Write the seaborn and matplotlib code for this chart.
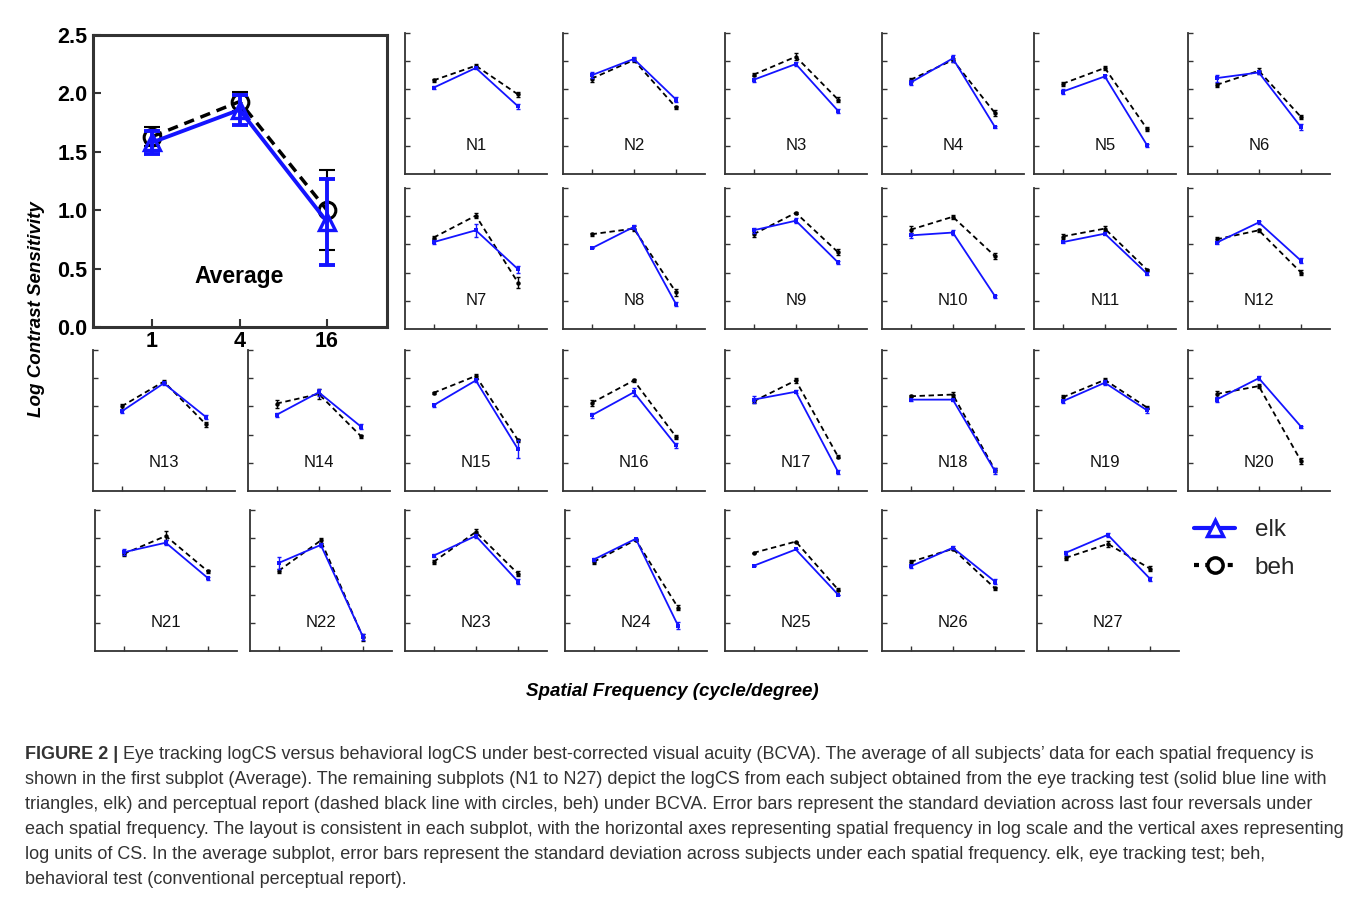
import numpy as np
import pandas as pd
import matplotlib
matplotlib.use("Agg")
import matplotlib.pyplot as plt
from matplotlib.lines import Line2D
from matplotlib.ticker import NullLocator, FixedLocator
import seaborn as sns

sns.set_theme(style="white")
plt.rcParams["font.family"] = ["Liberation Sans", "DejaVu Sans"]

# ---------------- data ----------------
freqs = [1, 4, 16]
freq_labels = ["1", "4", "16"]
subjects = [f"N{i}" for i in range(1, 28)]

# eye tracking (elk) logCS per subject at 1, 4, 16 c/deg
elk_1 = [1.53, 1.75, 1.67, 1.62, 1.46, 1.70, 1.54, 1.43, 1.75, 1.66, 1.54, 1.53, 1.41, 1.35,
         1.52, 1.34, 1.62, 1.62, 1.59, 1.62, 1.75, 1.56, 1.69, 1.62, 1.51, 1.50, 1.74]
elk_4 = [1.88, 2.04, 1.95, 2.05, 1.73, 1.80, 1.75, 1.81, 1.92, 1.71, 1.69, 1.89, 1.91, 1.75,
         1.96, 1.75, 1.76, 1.62, 1.92, 2.00, 1.92, 1.88, 2.04, 1.99, 1.80, 1.83, 2.06]
elk_16 = [1.20, 1.32, 1.12, 0.83, 0.51, 0.83, 1.06, 0.44, 1.18, 0.58, 0.98, 1.21, 1.31, 1.14,
          0.74, 0.81, 0.34, 0.35, 1.43, 1.14, 1.29, 0.25, 1.23, 0.45, 1.00, 1.23, 1.28]
# behavioral (beh) logCS
beh_1 = [1.66, 1.69, 1.76, 1.67, 1.60, 1.58, 1.62, 1.68, 1.68, 1.76, 1.64, 1.59, 1.50, 1.55,
         1.74, 1.56, 1.59, 1.68, 1.66, 1.72, 1.72, 1.42, 1.58, 1.58, 1.74, 1.58, 1.65]
beh_4 = [1.92, 2.02, 2.08, 2.02, 1.88, 1.83, 2.01, 1.78, 2.06, 1.99, 1.78, 1.75, 1.94, 1.72,
         2.04, 1.96, 1.96, 1.71, 1.97, 1.86, 2.04, 1.96, 2.11, 1.97, 1.94, 1.81, 1.90]
beh_16 = [1.41, 1.18, 1.32, 1.08, 0.80, 1.01, 0.82, 0.65, 1.36, 1.29, 1.05, 1.00, 1.18, 0.97,
          0.90, 0.96, 0.61, 0.37, 1.48, 0.53, 1.41, 0.24, 1.37, 0.77, 1.09, 1.11, 1.46]

# standard deviations across last four reversals
elk_sd_1 = [0.03, 0.05, 0.03, 0.05, 0.04, 0.06, 0.03, 0.00, 0.04, 0.04, 0.02, 0.03, 0.02, 0.03,
            0.03, 0.04, 0.06, 0.02, 0.03, 0.04, 0.05, 0.10, 0.03, 0.03, 0.00, 0.03, 0.04]
elk_sd_4 = [0.02, 0.03, 0.03, 0.06, 0.03, 0.03, 0.12, 0.04, 0.04, 0.05, 0.03, 0.03, 0.03, 0.06,
            0.03, 0.07, 0.03, 0.02, 0.04, 0.04, 0.04, 0.03, 0.03, 0.02, 0.00, 0.03, 0.04]
elk_sd_16 = [0.04, 0.05, 0.03, 0.02, 0.03, 0.05, 0.06, 0.03, 0.03, 0.03, 0.03, 0.04, 0.03, 0.04,
             0.16, 0.04, 0.03, 0.05, 0.04, 0.02, 0.03, 0.05, 0.04, 0.06, 0.00, 0.05, 0.04]
beh_sd_1 = [0.03, 0.05, 0.03, 0.03, 0.04, 0.04, 0.03, 0.03, 0.04, 0.06, 0.05, 0.05, 0.05, 0.07,
            0.02, 0.06, 0.03, 0.02, 0.05, 0.05, 0.04, 0.04, 0.03, 0.03, 0.00, 0.03, 0.03]
beh_sd_4 = [0.03, 0.03, 0.06, 0.04, 0.03, 0.05, 0.04, 0.04, 0.02, 0.04, 0.04, 0.03, 0.03, 0.08,
            0.03, 0.02, 0.04, 0.05, 0.03, 0.03, 0.08, 0.05, 0.05, 0.02, 0.00, 0.02, 0.05]
beh_sd_16 = [0.04, 0.03, 0.04, 0.06, 0.04, 0.03, 0.10, 0.06, 0.05, 0.05, 0.02, 0.05, 0.05, 0.03,
             0.03, 0.04, 0.03, 0.04, 0.03, 0.05, 0.03, 0.06, 0.04, 0.04, 0.02, 0.03, 0.04]

# average across subjects
avg_elk = [1.58, 1.86, 0.90]
avg_elk_sd = [0.10, 0.13, 0.37]
avg_beh = [1.63, 1.93, 1.00]
avg_beh_sd = [0.08, 0.08, 0.34]

caption_lead = "FIGURE 2 |"
caption_lines = [
    " Eye tracking logCS versus behavioral logCS under best-corrected visual acuity (BCVA). The average of all subjects\u2019 data for each spatial frequency is",
    "shown in the first subplot (Average). The remaining subplots (N1 to N27) depict the logCS from each subject obtained from the eye tracking test (solid blue line with",
    "triangles, elk) and perceptual report (dashed black line with circles, beh) under BCVA. Error bars represent the standard deviation across last four reversals under",
    "each spatial frequency. The layout is consistent in each subplot, with the horizontal axes representing spatial frequency in log scale and the vertical axes representing",
    "log units of CS. In the average subplot, error bars represent the standard deviation across subjects under each spatial frequency. elk, eye tracking test; beh,",
    "behavioral test (conventional perceptual report).",
]

# ---------------- layout ----------------
W, H = 1357, 897
fig = plt.figure(figsize=(W / 100, H / 100), dpi=100)
fig.patch.set_facecolor("white")

BLUE = "#1414ff"
SPINE = "#333333"
XLIM = (2 ** -1.35, 2 ** 5.37)


def px_axes(x0, y_top, w, h):
    return fig.add_axes([x0 / W, 1 - (y_top + h) / H, w / W, h / H])


def setup_log_x(ax):
    ax.set_xscale("log", base=2)
    ax.set_xlim(*XLIM)
    ax.xaxis.set_major_locator(FixedLocator(freqs))
    ax.xaxis.set_minor_locator(NullLocator())
    ax.set_ylim(0, 2.5)


# ---- Average panel ----
ax = px_axes(93, 35, 294, 292)
setup_log_x(ax)
ax.errorbar(freqs, avg_beh, yerr=avg_beh_sd, fmt="none", ecolor="black",
            elinewidth=1.5, capsize=5.5, capthick=1.5, zorder=2)
sns.lineplot(x=freqs, y=avg_beh, ax=ax, color="black", linestyle=(0, (3, 2)), linewidth=2.5,
             marker="o", markersize=12, markerfacecolor="none", markeredgecolor="black",
             markeredgewidth=2.2, errorbar=None, zorder=3)
ax.errorbar(freqs, avg_elk, yerr=avg_elk_sd, fmt="none", ecolor=BLUE,
            elinewidth=2.8, capsize=6, capthick=2.8, zorder=4)
sns.lineplot(x=freqs, y=avg_elk, ax=ax, color=BLUE, linewidth=2.8,
             marker="^", markersize=12, markerfacecolor="none", markeredgecolor=BLUE,
             markeredgewidth=2.4, errorbar=None, zorder=5)
ax.set_yticks([0.0, 0.5, 1.0, 1.5, 2.0, 2.5])
ax.set_yticklabels(["0.0", "0.5", "1.0", "1.5", "2.0", "2.5"])
ax.set_xticklabels(freq_labels)
for lab in ax.get_xticklabels() + ax.get_yticklabels():
    lab.set_fontweight("bold")
    lab.set_fontsize(15.5)
    lab.set_color("black")
ax.tick_params(axis="both", direction="in", length=6, width=1.5, color=SPINE,
               left=True, bottom=True)
ax.tick_params(axis="x", pad=3)
ax.tick_params(axis="y", pad=4)
for s in ax.spines.values():
    s.set_visible(True)
    s.set_color(SPINE)
    s.set_linewidth(2.2)
ax.set_xlabel("")
ax.set_ylabel("")
ax.text(4, 0.43, "Average", ha="center", va="center", fontsize=16.5, fontweight="bold", color="black")

# ---- per-subject panels ----
row_tops = [33, 188, 350, 510]
cols_r12 = [405, 563, 725, 882, 1034, 1188]
cols_r3 = [93, 248, 405, 563, 725, 882, 1034, 1188]
cols_r4 = [95, 250, 405, 565, 725, 882, 1037]
positions = ([(x, row_tops[0]) for x in cols_r12] + [(x, row_tops[1]) for x in cols_r12]
             + [(x, row_tops[2]) for x in cols_r3] + [(x, row_tops[3]) for x in cols_r4])

for i, name in enumerate(subjects):
    x0, yt = positions[i]
    a = px_axes(x0, yt, 142, 141)
    setup_log_x(a)
    e = [elk_1[i], elk_4[i], elk_16[i]]
    es = [elk_sd_1[i], elk_sd_4[i], elk_sd_16[i]]
    b = [beh_1[i], beh_4[i], beh_16[i]]
    bs = [beh_sd_1[i], beh_sd_4[i], beh_sd_16[i]]
    a.errorbar(freqs, b, yerr=bs, fmt="none", ecolor="black", elinewidth=1.0,
               capsize=1.5, capthick=1.0, zorder=2)
    sns.lineplot(x=freqs, y=b, ax=a, color="black", linestyle=(0, (3, 2)), linewidth=1.3,
                 marker="o", markersize=3.2, markeredgewidth=0, errorbar=None, zorder=3)
    a.errorbar(freqs, e, yerr=es, fmt="none", ecolor=BLUE, elinewidth=1.0,
               capsize=1.5, capthick=1.0, zorder=4)
    sns.lineplot(x=freqs, y=e, ax=a, color=BLUE, linewidth=1.3,
                 marker="s", markersize=2.2, markeredgewidth=0, errorbar=None, zorder=5)
    a.set_yticks([0.5, 1.0, 1.5, 2.0, 2.5])
    a.tick_params(axis="both", direction="in", length=3.5, width=1.0, color=SPINE,
                  left=True, bottom=True, labelbottom=False, labelleft=False)
    sns.despine(ax=a)
    for s in ("left", "bottom"):
        a.spines[s].set_color(SPINE)
        a.spines[s].set_linewidth(1.3)
    a.set_xlabel("")
    a.set_ylabel("")
    a.text(0.5, 0.2, name, transform=a.transAxes, ha="center", va="center",
           fontsize=12, color="#111111")

# ---- legend ----
handles = [
    Line2D([], [], color=BLUE, linewidth=3, marker="^", markersize=12,
           markerfacecolor="white", markeredgecolor=BLUE, markeredgewidth=2.5),
    Line2D([], [], color="black", linewidth=3, linestyle=(0, (1.2, 1.5)), marker="o",
           markersize=11, markerfacecolor="white", markeredgecolor="black", markeredgewidth=2.5),
]
fig.legend(handles, ["elk", "beh"], loc="upper left",
           bbox_to_anchor=(1194 / W, 1 - 519 / H), frameon=False, fontsize=17.5,
           handlelength=1.7, handletextpad=0.8, borderpad=0, borderaxespad=0,
           labelspacing=0.65)

# ---- axis titles ----
fig.text(37 / W, 1 - 309 / H, "Log Contrast Sensitivity", rotation=90, ha="center",
         va="center", fontsize=13.5, fontweight="bold", fontstyle="italic", color="black")
fig.text(672 / W, 1 - 692 / H, "Spatial Frequency (cycle/degree)", ha="center",
         va="center", fontsize=13.5, fontweight="bold", fontstyle="italic", color="black")

# ---- caption ----
CAP = "#333333"
cap_size = 13.0
base_y = [759, 784, 809, 834, 859, 884]
lead = fig.text(25 / W, 1 - base_y[0] / H, caption_lead, ha="left", va="baseline",
                fontsize=cap_size, fontweight="bold", color=CAP)
fig.canvas.draw()
bb = lead.get_window_extent(renderer=fig.canvas.get_renderer())
fig.text(bb.x1 / W, 1 - base_y[0] / H, caption_lines[0], ha="left", va="baseline",
         fontsize=cap_size, color=CAP)
for k in range(1, len(caption_lines)):
    fig.text(25 / W, 1 - base_y[k] / H, caption_lines[k], ha="left", va="baseline",
             fontsize=cap_size, color=CAP)

fig.savefig("out.png", dpi=100, facecolor="white")
